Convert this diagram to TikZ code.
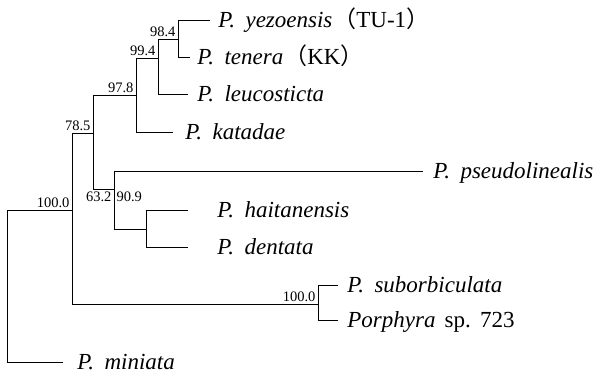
\documentclass[tikz,border=0pt]{standalone}
\usepackage{fontspec}
\setmainfont{Liberation Serif}
\newfontfamily\cjk{Noto Sans CJK JP}
\newcommand{\gen}{\textit{P.}\hspace{0.45em}}

\begin{document}
\begin{tikzpicture}[x=1pt, y=-1pt, line width=0.7pt,
      every node/.append style={inner sep=0pt}]
    \tikzstyle{taxon} = [anchor=west, font=\fontsize{23}{26}\selectfont, text height=15pt, text depth=0pt]
    \tikzstyle{boot} = [font=\fontsize{14.5}{16}\selectfont, inner sep=2.2pt]
    \useasboundingbox (0,0) rectangle (599,374);
    % branching points
    \coordinate (root) at (7,286);
    \coordinate (A) at (72,210);
    \coordinate (B) at (93,133);
    \coordinate (C) at (318,304);
    \coordinate (D) at (136,95);
    \coordinate (E) at (114,189);
    \coordinate (F) at (158,58);
    \coordinate (G) at (178,39);
    \coordinate (H) at (146,229);
    % species
    \node (yezoensis) [taxon] at (218,20) {\gen\textit{yezoensis}\kern1pt{\cjk （}TU-1{\cjk ）}};
    \node (tenera) [taxon] at (197,57) {\gen\textit{tenera}\kern1pt{\cjk （}KK{\cjk ）}};
    \node (leucosticta) [taxon] at (197,94) {\gen\textit{leucosticta}};
    \node (katadae) [taxon] at (185,132) {\gen\textit{katadae}};
    \node (pseudolinealis) [taxon] at (433,171) {\gen\textit{pseudolinealis}};
    \node (haitanensis) [taxon] at (217,210) {\gen\textit{haitanensis}};
    \node (dentata) [taxon] at (217,247) {\gen\textit{dentata}};
    \node (suborbiculata) [taxon] at (347,285) {\gen\textit{suborbiculata}};
    \node (porphyra) [taxon] at (347,320) {\textit{Porphyra}\hspace{0.4em}sp.\hspace{0.4em}723};
    \node (miniata) [taxon] at (77,362) {\gen\textit{miniata}};
    % branches
    \draw (root) |- (A);
    \draw[shorten >=14pt] (root) |- (miniata.west);
    \draw (A) |- (B);
    \draw (A) |- (C);
    \draw (B) |- (D);
    \draw (B) |- (E);
    \draw (D) |- (F);
    \draw[shorten >=12pt] (D) |- (katadae.west);
    \draw (F) |- (G);
    \draw[shorten >=9pt] (F) |- (leucosticta.west);
    \draw[shorten >=8pt] (G) |- (yezoensis.west);
    \draw[shorten >=7pt] (G) |- (tenera.west);
    \draw[shorten >=10pt] (E) |- (pseudolinealis.west);
    \draw (E) |- (H);
    \draw[shorten >=29pt] (H) |- (haitanensis.west);
    \draw[shorten >=29pt] (H) |- (dentata.west);
    \draw[shorten >=9pt] (C) |- (suborbiculata.west);
    \draw[shorten >=9pt] (C) |- (porphyra.west);
    % bootstrap values
    \node (bA) [boot, above left] at (A) {100.0};
    \node (bB) [boot, above left] at (B) {78.5};
    \node (bD) [boot, above left] at (D) {97.8};
    \node (bF) [boot, above left] at (F) {99.4};
    \node (bG) [boot, above left] at (G) {98.4};
    \node (bE) [boot, below left] at (E) {63.2};
    \node (bH) [boot, below right] at (E) {90.9};
    \node (bC) [boot, above left] at (C) {100.0};
\end{tikzpicture}
\end{document}
